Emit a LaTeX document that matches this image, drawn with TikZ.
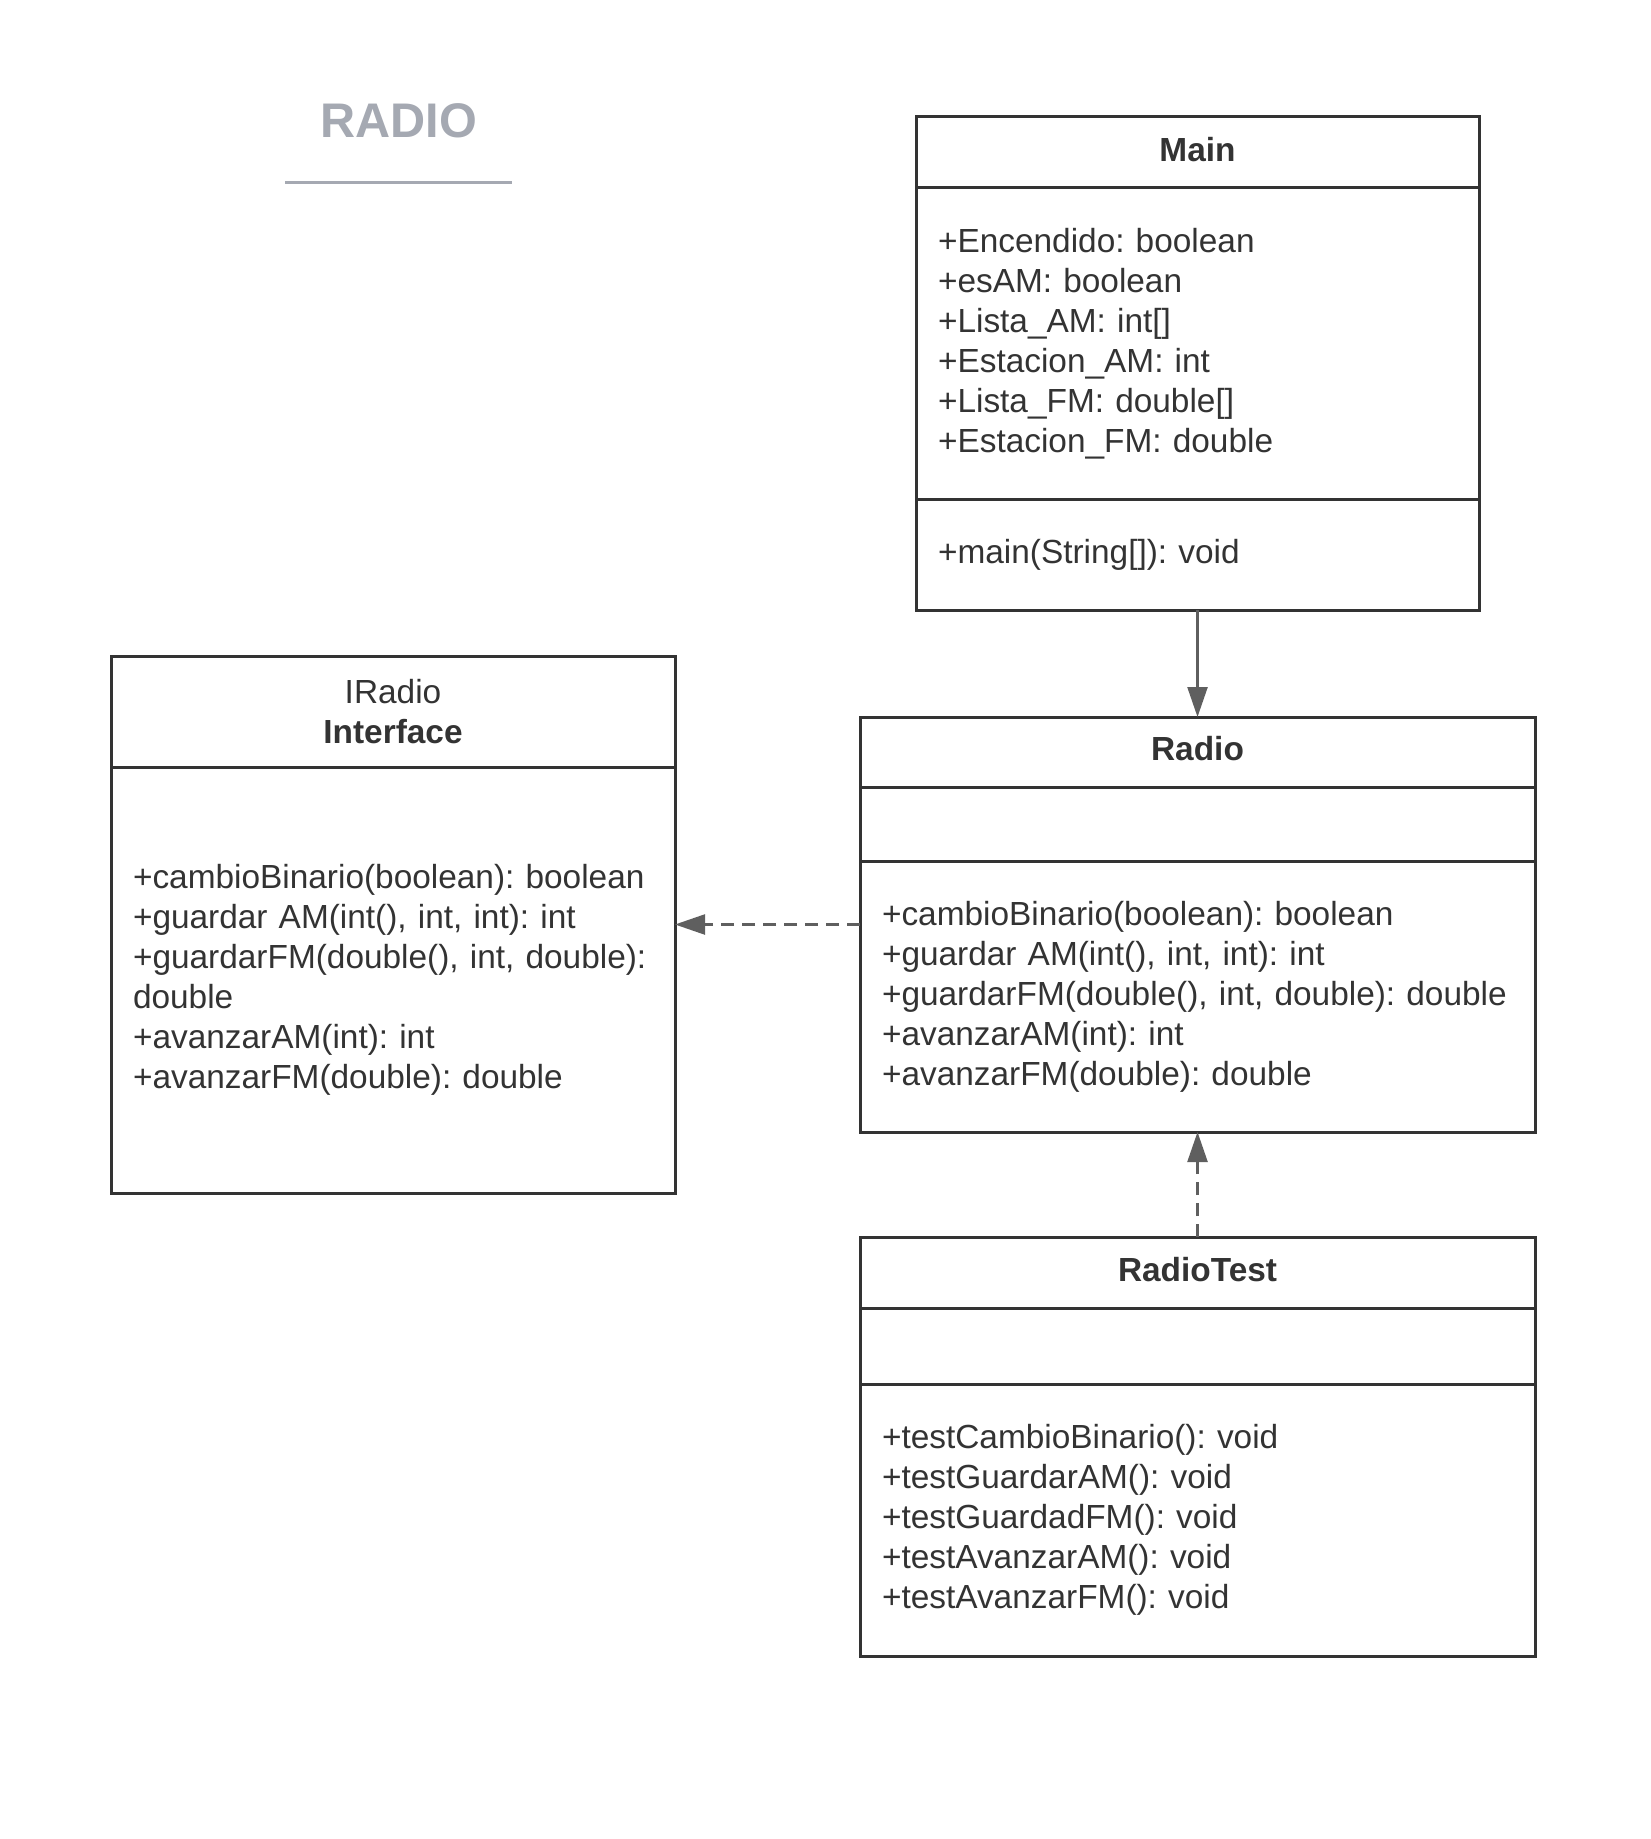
\documentclass[tikz,border=0pt]{standalone}
\usepackage{fontspec}
\setmainfont{Liberation Sans}
\usetikzlibrary{positioning,arrows.meta}
\definecolor{boxline}{HTML}{333333}
\definecolor{arrowgray}{HTML}{5F5F5F}
\definecolor{titlegray}{HTML}{A5A9B2}
\frenchspacing

\begin{document}
\begin{tikzpicture}[
  x = 0.5pt, y = -0.5pt,
  every node/.style = {text = boxline, font = \fontsize{16.7}{20}\selectfont},
  part/.style = {draw = boxline, line width = 1.5pt, outer sep = 0pt,
                 inner xsep = 11pt, inner ysep = 0pt, text width = #1, align = left},
  head/.style = {part = #1, align = center, text depth = 3.5pt,
                 font = \fontsize{16.7}{20}\selectfont\bfseries},
  link/.style = {draw = arrowgray, line width = 1.2pt, -{Triangle[length = 15pt, width = 10pt]}},
  dep/.style = {link, dash pattern = on 6.5pt off 4pt}
  ]
  \useasboundingbox (0,0) rectangle (1650,1839);

  \node[font = \fontsize{24.3}{28}\selectfont\bfseries, text = titlegray] (title) at (399,121) {RADIO};
  \draw[titlegray, line width = 1.5pt] (285,183) -- (512,183);

  \node[head = 259.5pt, minimum height = 35.5pt] (main) at (1197.5,152.5) {Main};
  \node[part = 259.5pt, minimum height = 156pt, below = 0pt of main] (mainattr)
        {+Encendido: boolean\\ +esAM: boolean\\ +Lista\_AM: int[]\\
         +Estacion\_AM: int\\ +Lista\_FM: double[]\\ +Estacion\_FM: double};
  \node[part = 259.5pt, minimum height = 55pt, below = 0pt of mainattr] (mainmeth)
        {+main(String[]): void};

  \node[head = 315.5pt, minimum height = 35pt] (radio) at (1197.5,752) {Radio};
  \node[part = 315.5pt, minimum height = 37pt, below = 0pt of radio] (radioattr) {};
  \node[part = 315.5pt, minimum height = 135.5pt, below = 0pt of radioattr] (radiometh)
        {+cambioBinario(boolean): boolean\\ +guardar AM(int(), int, int): int\\
         +guardarFM(double(), int, double): double\\ +avanzarAM(int): int\\
         +avanzarFM(double): double};

  \node[head = 315.5pt, minimum height = 35.5pt] (radiotest) at (1197.5,1272.5) {RadioTest};
  \node[part = 315.5pt, minimum height = 38pt, below = 0pt of radiotest] (radiotestattr) {};
  \node[part = 315.5pt, minimum height = 136pt, below = 0pt of radiotestattr] (radiotestmeth)
        {+testCambioBinario(): void\\ +testGuardarAM(): void\\ +testGuardadFM(): void\\
         +testAvanzarAM(): void\\ +testAvanzarFM(): void};

  \node[part = 260pt, align = center, minimum height = 55.5pt] (iradio)
        at (393,711.5) {IRadio\\ \textbf{Interface}};
  \node[part = 260pt, minimum height = 213pt, below = 0pt of iradio] (iradiobody)
        {+cambioBinario(boolean): boolean\\ +guardar AM(int(), int, int): int\\
         +guardarFM(double(), int, double):\\ double\\ +avanzarAM(int): int\\
         +avanzarFM(double): double};

  \coordinate (realize) at ([yshift = 36pt]radiometh.west);
  \draw[link] (mainmeth) -- (radio);
  \draw[dep] (realize) -- (realize -| iradiobody.east);
  \draw[dep] (radiotest) -- (radiometh);
\end{tikzpicture}
\end{document}
